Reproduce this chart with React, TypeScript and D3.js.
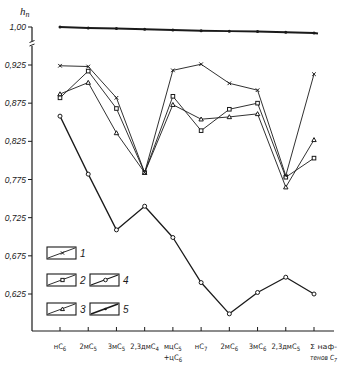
import React, { useEffect, useRef } from 'react';
import * as d3 from 'd3';

// Categories along the x axis (C followed by a digit is drawn as a subscript)
const categories = ['нC6', '2мC5', '3мC5', '2,3дмC4', 'мцC5+цC6', 'нC7', '2мC6', '3мC6', '2,3дмC5', 'ΣC7'];
const categoryLines: string[][] = [
  ['нC6'], ['2мC5'], ['3мC5'], ['2,3дмC4'], ['мцC5', '+цC6'],
  ['нC7'], ['2мC6'], ['3мC6'], ['2,3дмC5'], ['Σ наф-', 'тенов C7'],
];

// Series values (h_n)
const series1 = [0.924, 0.923, 0.882, 0.784, 0.918, 0.926, 0.901, 0.892, 0.780, 0.913]; // crosses
const series2 = [0.882, 0.917, 0.868, 0.784, 0.884, 0.839, 0.867, 0.875, 0.778, 0.803]; // squares
const series3 = [0.887, 0.902, 0.836, 0.784, 0.873, 0.854, 0.857, 0.861, 0.765, 0.827]; // triangles
const series4 = [0.858, 0.782, 0.709, 0.740, 0.699, 0.640, 0.599, 0.627, 0.647, 0.625]; // circles
const series5 = [1.000, 0.9987, 0.998, 0.997, 0.996, 0.995, 0.9945, 0.994, 0.993, 0.992]; // dots, above the break

const yTicks = [0.925, 0.875, 0.825, 0.775, 0.725, 0.675, 0.625];
const yTopTick = 1.0;

type Marker = 'cross' | 'square' | 'triangle' | 'circle' | 'dot';

const App: React.FC = () => {
  const svgRef = useRef<SVGSVGElement>(null);

  useEffect(() => {
    if (!svgRef.current) return;
    const svg = d3.select(svgRef.current);
    svg.selectAll('*').remove();

    const ink = '#1a1a1a';
    const x = d3.scalePoint<string>().domain(categories).range([60, 314]);
    const y = d3.scaleLinear().domain([0.625, 0.925]).range([294, 65]);
    const yTop = d3.scaleLinear().domain([0.99, 1.0]).range([34.5, 27]);

    const axisX = 32;
    const axisY = 331;

    // sub-scripted text helper: "C" + digit -> subscript digit
    const writeSub = (t: d3.Selection<SVGTextElement, unknown, null, undefined>, s: string, fs: number) => {
      const parts = s.split(/(C\d)/).filter(p => p.length);
      let lowered = false;
      parts.forEach(p => {
        if (/^C\d$/.test(p)) {
          const c = t.append('tspan').text('C');
          if (lowered) c.attr('dy', -2);
          t.append('tspan').attr('dy', 2).style('font-size', `${fs * 0.8}px`).text(p[1]);
          lowered = true;
        } else {
          const n = t.append('tspan').text(p);
          if (lowered) { n.attr('dy', -2); lowered = false; }
        }
      });
    };

    // --- Axes ---
    // y axis with break
    svg.append('line').attr('x1', axisX).attr('x2', axisX).attr('y1', 27).attr('y2', 41)
      .attr('stroke', ink).attr('stroke-width', 1.2);
    svg.append('line').attr('x1', axisX).attr('x2', axisX).attr('y1', 46).attr('y2', axisY)
      .attr('stroke', ink).attr('stroke-width', 1.2);
    [41.5, 45].forEach(by => {
      svg.append('line').attr('x1', axisX - 2.5).attr('x2', axisX + 2.5)
        .attr('y1', by + 1).attr('y2', by - 1).attr('stroke', ink).attr('stroke-width', 1);
    });

    const tickFmt = (v: number) => d3.format('.3f')(v).replace('.', ',');
    const drawYTick = (yy: number, label: string) => {
      svg.append('line').attr('x1', axisX - 4).attr('x2', axisX).attr('y1', yy).attr('y2', yy)
        .attr('stroke', ink).attr('stroke-width', 1);
      svg.append('text').attr('x', axisX - 6).attr('y', yy + 3)
        .attr('text-anchor', 'end').attr('fill', ink)
        .style('font-family', 'Liberation Sans, Arial, sans-serif')
        .style('font-style', 'italic').style('font-size', '8.5px')
        .text(label);
    };
    drawYTick(yTop(yTopTick), '1,00');
    yTicks.forEach(v => drawYTick(y(v), tickFmt(v)));

    // y label h_n
    const yl = svg.append('text').attr('x', 20).attr('y', 15).attr('fill', ink)
      .style('font-family', 'Liberation Serif, serif').style('font-style', 'italic').style('font-size', '11px');
    yl.append('tspan').text('h');
    yl.append('tspan').attr('dy', 2).style('font-size', '8px').text('n');

    // x axis
    svg.append('line').attr('x1', axisX).attr('x2', 334).attr('y1', axisY).attr('y2', axisY)
      .attr('stroke', ink).attr('stroke-width', 1.2);
    categories.forEach((c, i) => {
      const cx = x(c)!;
      svg.append('line').attr('x1', cx).attr('x2', cx).attr('y1', axisY).attr('y2', axisY - 4)
        .attr('stroke', ink).attr('stroke-width', 1);
      const lines = categoryLines[i];
      const last = i === categories.length - 1;
      lines.forEach((ln, j) => {
        const t = svg.append('text')
          .attr('x', last ? 310 : cx)
          .attr('y', 349 + j * 11)
          .attr('text-anchor', last ? 'start' : 'middle')
          .attr('fill', ink)
          .style('font-family', 'DejaVu Sans Condensed, DejaVu Sans, sans-serif')
          .style('font-size', last ? '7px' : '7.5px')
          .style('font-style', last && j === 1 ? 'italic' : 'normal');
        writeSub(t, ln, last ? 7 : 7.5);
        if (last) t.attr('textLength', 27).attr('lengthAdjust', 'spacingAndGlyphs');
      });
    });

    // --- Markers ---
    const drawMarker = (g: d3.Selection<SVGGElement, unknown, null, undefined>, m: Marker, px: number, py: number, s = 1) => {
      if (m === 'cross') {
        const r = 1.8 * s;
        g.append('path').attr('d', `M${px - r},${py - r}L${px + r},${py + r}M${px - r},${py + r}L${px + r},${py - r}`)
          .attr('stroke', ink).attr('stroke-width', 1).attr('fill', 'none');
      } else if (m === 'square') {
        const r = 1.8 * s;
        g.append('rect').attr('x', px - r).attr('y', py - r).attr('width', 2 * r).attr('height', 2 * r)
          .attr('fill', 'white').attr('stroke', ink).attr('stroke-width', 1);
      } else if (m === 'triangle') {
        const r = 2.2 * s;
        g.append('path').attr('d', `M${px},${py - r}L${px + r},${py + r * 0.8}L${px - r},${py + r * 0.8}Z`)
          .attr('fill', 'white').attr('stroke', ink).attr('stroke-width', 1);
      } else if (m === 'circle') {
        g.append('circle').attr('cx', px).attr('cy', py).attr('r', 2 * s)
          .attr('fill', 'white').attr('stroke', ink).attr('stroke-width', 1);
      } else {
        g.append('circle').attr('cx', px).attr('cy', py).attr('r', 1.5 * s).attr('fill', ink);
      }
    };

    const drawSeries = (vals: number[], m: Marker, width: number, ys: d3.ScaleLinear<number, number>, extendTo?: number) => {
      const g = svg.append('g');
      const pts: [number, number][] = vals.map((v, i) => [x(categories[i])!, ys(v)]);
      const line = d3.line<[number, number]>().x(d => d[0]).y(d => d[1]);
      const all = extendTo ? [...pts, [extendTo, ys(vals[vals.length - 1]) + 0.5] as [number, number]] : pts;
      g.append('path').attr('d', line(all)).attr('fill', 'none').attr('stroke', ink)
        .attr('stroke-width', width).attr('stroke-linejoin', 'round');
      pts.forEach(p => drawMarker(g, m, p[0], p[1]));
    };

    drawSeries(series5, 'dot', 2, yTop, 318);
    drawSeries(series4, 'circle', 1.3, y);
    drawSeries(series3, 'triangle', 0.9, y);
    drawSeries(series2, 'square', 0.9, y);
    drawSeries(series1, 'cross', 0.9, y);

    // --- Legend ---
    const legend: { m: Marker; label: string; bx: number; by: number; w: number }[] = [
      { m: 'cross', label: '1', bx: 47, by: 247, w: 0.9 },
      { m: 'square', label: '2', bx: 47, by: 274, w: 0.9 },
      { m: 'triangle', label: '3', bx: 47, by: 303, w: 0.9 },
      { m: 'circle', label: '4', bx: 90, by: 274, w: 1.2 },
      { m: 'dot', label: '5', bx: 90, by: 303, w: 1.6 },
    ];
    legend.forEach(l => {
      const g = svg.append('g');
      const bw = 29, bh = 12;
      g.append('rect').attr('x', l.bx).attr('y', l.by).attr('width', bw).attr('height', bh)
        .attr('fill', 'white').attr('stroke', ink).attr('stroke-width', 1.1);
      g.append('line').attr('x1', l.bx + 1).attr('y1', l.by + bh - 1).attr('x2', l.bx + bw - 1).attr('y2', l.by + 1)
        .attr('stroke', ink).attr('stroke-width', l.w);
      drawMarker(g, l.m, l.bx + bw / 2 + 1, l.by + bh / 2, 0.9);
      g.append('text').attr('x', l.bx + bw + 4).attr('y', l.by + bh / 2 + 4).attr('fill', ink)
        .style('font-family', 'Liberation Sans, Arial, sans-serif').style('font-style', 'italic').style('font-size', '10px')
        .text(l.label);
    });
  }, []);

  return (
    <svg ref={svgRef} width={340} height={367} viewBox="0 0 340 367"
      style={{ position: 'absolute', left: 0, top: 0, background: 'white' }} />
  );
};

export default App;
